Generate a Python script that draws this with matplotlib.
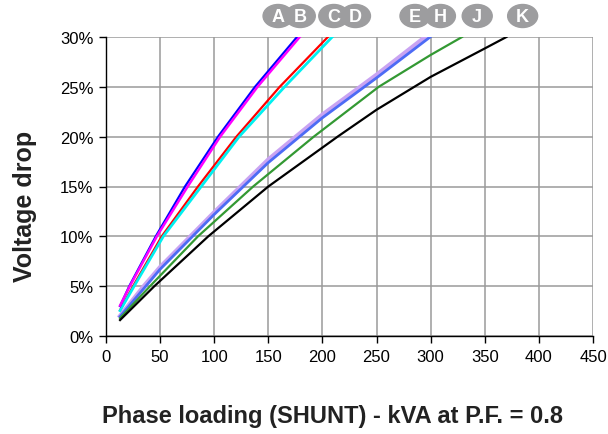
import matplotlib
matplotlib.use("Agg")
import matplotlib.pyplot as plt
from matplotlib.patches import Ellipse

plt.rcParams["font.family"] = ["Liberation Sans", "DejaVu Sans"]

# Voltage drop (%) against phase loading (kVA) for each cable
a_kva = [13, 21.5, 46, 73, 103.5, 137.7, 176.5]
a_drop = [3.0, 5, 10, 15, 20, 25, 30]
b_kva = [13, 22, 47, 75.5, 105.5, 140, 179]
b_drop = [3.05, 5, 10, 15, 20, 25, 30]
c_kva = [13, 25, 51.5, 85, 120.5, 160.5, 205]
c_drop = [2.6, 5, 10, 15, 20, 25, 30]
d_kva = [13, 26, 53, 88, 123, 165, 209]
d_drop = [2.55, 5, 10, 15, 20, 25, 30]
e_kva = [13, 35, 50, 100, 150, 200, 250, 295]
e_drop = [2.0, 5.0, 6.9, 12.4, 17.7, 22.2, 26.2, 30]
h_kva = [13, 36, 50, 100, 150, 200, 250, 299.5]
h_drop = [1.95, 4.9, 6.7, 12.2, 17.4, 21.9, 25.9, 30]
j_kva = [13, 40.7, 85, 136, 192, 252, 279, 300, 329]
j_drop = [1.8, 5, 10, 15, 20, 25, 26.8, 28.2, 30]
k_kva = [13, 44.7, 94.5, 150, 214, 250, 300, 350, 370]
k_drop = [1.6, 5, 10, 15, 20, 22.7, 26.0, 28.85, 30]

x_ticks = [0, 50, 100, 150, 200, 250, 300, 350, 400, 450]
y_ticks = [0, 5, 10, 15, 20, 25, 30]
letters = ["A", "B", "C", "D", "E", "H", "J", "K"]

fig = plt.figure(figsize=(6.08, 4.35), dpi=100)
ax = fig.add_axes([106 / 608, 1 - 337 / 435, 487 / 608, 299 / 435])

series = [
    (e_kva, e_drop, "#c9a3f2", 3.2),
    (h_kva, h_drop, "#4d6bf5", 2.0),
    (j_kva, j_drop, "#339933", 1.6),
    (k_kva, k_drop, "#000000", 1.6),
    (c_kva, c_drop, "#ff0000", 1.6),
    (d_kva, d_drop, "#00f0f0", 2.0),
    (a_kva, a_drop, "#0000ff", 1.6),
    (b_kva, b_drop, "#ff00ff", 1.8),
]
for xs, ys, col, lw in series:
    ax.plot(xs, ys, color=col, lw=lw, solid_joinstyle="round", zorder=3)

ax.set_xlim(0, 450)
ax.set_ylim(0, 30)
ax.set_xticks(x_ticks)
ax.set_yticks(y_ticks)
ax.set_yticklabels([f"{v}%" for v in y_ticks])
ax.grid(True, color="#9a9a9a", lw=1.1)
ax.set_axisbelow(True)
for side in ["top", "right"]:
    ax.spines[side].set_visible(False)
for side in ["left", "bottom"]:
    ax.spines[side].set_color("black")
    ax.spines[side].set_linewidth(1.0)
    ax.spines[side].set_zorder(4)
ax.tick_params(axis="both", labelsize=12, length=5, width=1, color="black", pad=4)

fig.text(25 / 608, 1 - 206 / 435, "Voltage drop", rotation=90, fontsize=18,
         fontweight="bold", ha="center", va="center", color="#222222")
fig.text(332 / 608, 1 - 417 / 435, "Phase loading (SHUNT) - kVA at P.F. = 0.8",
         fontsize=17, fontweight="bold", ha="center", va="center", color="#222222")

# circled curve labels above the plot
label_x = [159, 179.5, 210.5, 230.5, 285.5, 309, 343, 385]
for lx, letter in zip(label_x, letters):
    px = ax.transData.transform((lx, 0))[0] / fig.bbox.width
    fig.patches.append(Ellipse((px, 1 - 17 / 435), 30 / 608, 23 / 435,
                               transform=fig.transFigure, color="#9d9d9f",
                               zorder=5))
    fig.text(px, 1 - 17.5 / 435, letter, color="white", fontsize=13,
             fontweight="bold", ha="center", va="center", zorder=6)

fig.savefig("out.png", dpi=100)
